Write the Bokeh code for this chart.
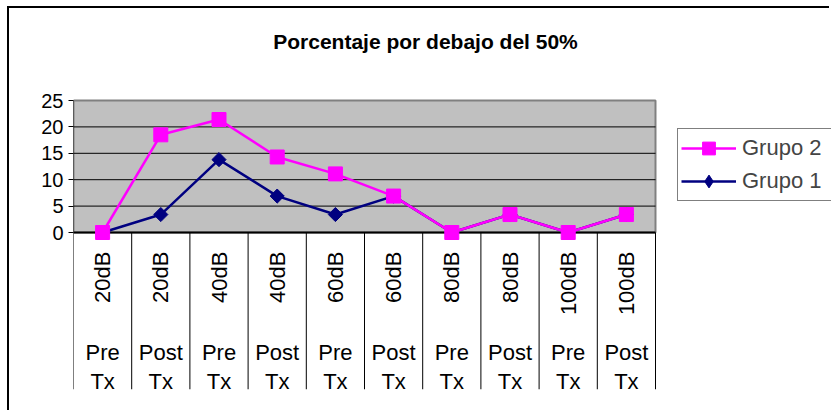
import numpy as np
from bokeh.plotting import figure
from bokeh.models import Range1d, FixedTicker, Legend, LegendItem, Label
from bokeh.core.properties import value
from bokeh.embed import file_html
from bokeh.resources import INLINE

# ---------------- data ----------------
levels = ["20dB", "20dB", "40dB", "40dB", "60dB", "60dB", "80dB", "80dB", "100dB", "100dB"]
phases = ["Pre Tx", "Post Tx", "Pre Tx", "Post Tx", "Pre Tx", "Post Tx", "Pre Tx", "Post Tx", "Pre Tx", "Post Tx"]
grupo2 = [0, 18.5, 21.4, 14.3, 11.1, 6.9, 0, 3.4, 0, 3.4]
grupo1 = [0, 3.4, 13.8, 6.9, 3.4, 6.9, 0, 3.4, 0, 3.4]
y_ticks = [0, 5, 10, 15, 20, 25]
title_text = "Porcentaje por debajo del 50%"
series_names = ["Grupo 2", "Grupo 1"]

# ---------------- layout (page pixel coordinates) ----------------
OFF_X, OFF_Y = 9, 8          # canvas origin on the page (after chart-area border)
W, H = 822, 404
PLOT_L, PLOT_R = 73, 655     # plot area left / right
PLOT_T, PLOT_B = 100, 232    # y = 25 and y = 0
FRAME_B = 389                # bottom of category label block
FONT = "Liberation Sans"

n = len(levels)
y_max = max(y_ticks)
px_x = (PLOT_R - PLOT_L) / n
px_y = (PLOT_B - PLOT_T) / y_max


def xd(px):
    return (px - PLOT_L) / px_x


def yd(py):
    return (PLOT_B - py) / px_y


xs = [i + 0.5 for i in range(n)]
y_bottom = yd(FRAME_B)

p = figure(width=W, height=H, output_backend="svg", toolbar_location=None,
           x_range=Range1d(0, xd(OFF_X + W)), y_range=Range1d(y_bottom, yd(OFF_Y)),
           x_axis_type=None,
           min_border_left=PLOT_L - OFF_X, min_border_right=0,
           min_border_top=0, min_border_bottom=(OFF_Y + H) - FRAME_B)
p.outline_line_color = None
p.grid.visible = False
p.background_fill_color = "white"
p.border_fill_color = "white"
p.styles = {"margin-left": "7px", "margin-top": "6px",
            "border-left": "2px solid black", "border-top": "2px solid black"}

# y axis (ticks + labels); the axis line itself is drawn only along the plot/label block
ax = p.yaxis[0]
ax.ticker = FixedTicker(ticks=y_ticks, minor_ticks=[])
ax.major_label_text_font = FONT
ax.major_label_text_font_size = "20px"
ax.major_label_text_color = "black"
ax.major_tick_out = 5
ax.major_tick_in = 0
ax.minor_tick_out = 0
ax.minor_tick_in = 0
ax.major_label_standoff = 5
ax.axis_line_color = None
ax.major_tick_line_color = "black"

# plot area
p.quad(left=[0], right=[n], bottom=[0], top=[y_max],
       fill_color="#C0C0C0", line_color="#808080", line_width=2)
inner = y_ticks[1:-1]
p.segment(x0=[0] * len(inner), x1=[n] * len(inner), y0=inner, y1=inner,
          line_color="black", line_width=1)
p.segment(x0=[0], x1=[n], y0=[0], y1=[0], line_color="black", line_width=2)

# category separators (first one continues the value axis line)
sep = list(range(n + 1))
p.segment(x0=sep, x1=sep, y0=[0] * len(sep), y1=[y_bottom] * len(sep),
          line_color="black", line_width=1)
p.segment(x0=[0], x1=[0], y0=[y_max], y1=[0], line_color="black", line_width=1)

# series
r1l = p.line(xs, grupo1, line_color="#000080", line_width=2.5)
r1m = p.scatter(xs, grupo1, marker="square", angle=np.pi / 4, size=10,
                fill_color="#000080", line_color="#000080")
r1leg = p.scatter(xs, grupo1, marker="diamond", size=15,
                  fill_color="#000080", line_color="#000080", visible=False)
r2l = p.line(xs, grupo2, line_color="#FF00FF", line_width=2.5)
r2m = p.scatter(xs, grupo2, marker="square", size=14, fill_color="#FF00FF", line_color="#FF00FF")

# category labels
p.text(x=xs, y=[yd(251)] * n, text=levels, angle=np.pi / 2,
       text_align="right", text_baseline="middle",
       text_font=value(FONT), text_font_size="22px", text_color="black")
top_words = [s.split(" ")[0] for s in phases]
bot_words = [s.split(" ")[1] for s in phases]
p.text(x=xs, y=[yd(352)] * n, text=top_words, text_align="center", text_baseline="alphabetic",
       text_font=value(FONT), text_font_size="22px", text_color="black")
p.text(x=xs, y=[yd(380.5)] * n, text=bot_words, text_align="center", text_baseline="alphabetic",
       text_font=value(FONT), text_font_size="22px", text_color="black")

# title
p.add_layout(Label(x=xd(425), y=yd(41), text=title_text, text_align="center",
                   text_baseline="alphabetic", text_font=FONT, text_font_size="21px",
                   text_font_style="bold", text_color="black"))

# legend
legend = Legend(items=[LegendItem(label=series_names[0], renderers=[r2l, r2m]),
                       LegendItem(label=series_names[1], renderers=[r1l, r1leg])],
                location=(677 - PLOT_L, FRAME_B - 201))
legend.border_line_color = "black"
legend.border_line_width = 1
legend.background_fill_color = "white"
legend.background_fill_alpha = 1
legend.padding = 3
legend.spacing = 1
legend.margin = 0
legend.glyph_width = 55
legend.glyph_height = 32
legend.label_height = 32
legend.label_width = 110
legend.label_standoff = 6
legend.label_text_font = FONT
legend.label_text_font_size = "22px"
legend.label_text_baseline = "middle"
p.add_layout(legend, "center")

open("out.html", "w").write(file_html(p, INLINE))
